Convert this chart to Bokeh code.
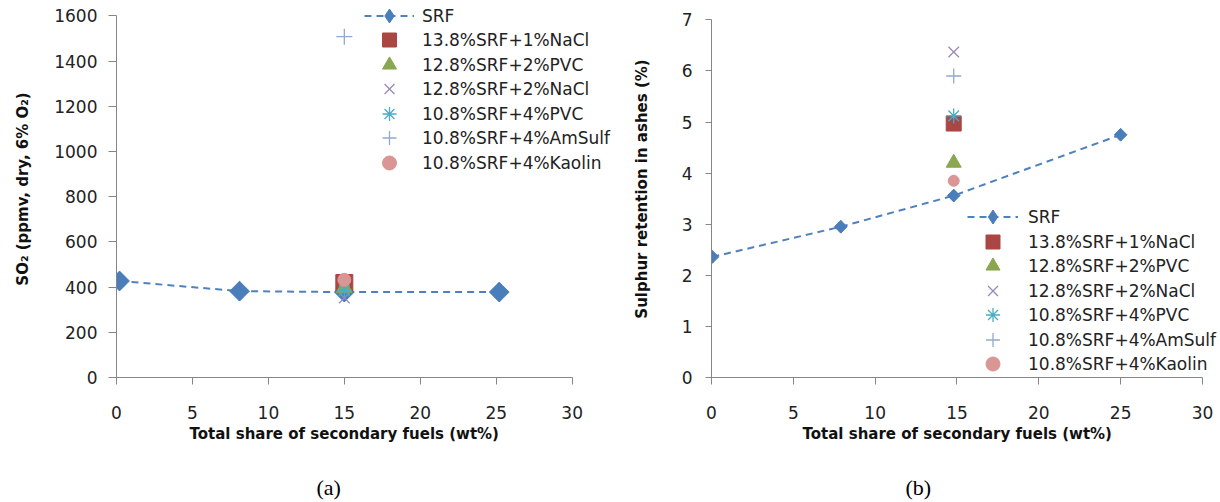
import math
from bokeh.plotting import figure
from bokeh.layouts import row
from bokeh.models import Legend, LegendItem, Title, FixedTicker, Range1d
from bokeh.embed import file_html
from bokeh.resources import INLINE

# ---------------- data ----------------
x_ticks = [0, 5, 10, 15, 20, 25, 30]
series_names = ["SRF", "13.8%SRF+1%NaCl", "12.8%SRF+2%PVC", "12.8%SRF+2%NaCl",
                "10.8%SRF+4%PVC", "10.8%SRF+4%AmSulf", "10.8%SRF+4%Kaolin"]

# panel (a): SO2 emissions
y_ticks_a = [0, 200, 400, 600, 800, 1000, 1200, 1400, 1600]
srf_x_a = [0.2, 8.1, 15.0, 25.2]
srf_y_a = [427, 382, 378, 378]
mix_x_a = [15.0]
nacl1_a = [418]
pvc2_a = [397]
nacl2_a = [352]
pvc4_a = [385]
amsulf_a = [1508]
kaolin_a = [432]

# panel (b): sulphur retention in ashes
y_ticks_b = [0, 1, 2, 3, 4, 5, 6, 7]
srf_x_b = [0.05, 7.9, 14.8, 25.0]
srf_y_b = [2.36, 2.95, 3.56, 4.75]
mix_x_b = [14.8]
nacl1_b = [4.97]
pvc2_b = [4.20]
nacl2_b = [6.37]
pvc4_b = [5.12]
amsulf_b = [5.90]
kaolin_b = [3.85]

# ---------------- style ----------------
FONT = "DejaVu Sans"
AXIS_COL = "#868686"
TXT_COL = "#222222"
C_SRF = "#4a7ebb"
C_LINE = "#4f81bd"
C_SQ = "#aa4643"
C_TRI = "#8aa64f"
C_X = "#9a88bb"
C_AST = "#4bacc6"
C_PLUS = "#93a9cf"
C_CIRC = "#d99694"
H = 502
TOP = 0
FRAME_H = 377
XTITLE = "Total share of secondary fuels (wt%)"


def make_panel(width, border_left, frame_w, x_view, y_view, y_top,
               y_ticks, ylabel, sx, sy, mx, mixes, sizes, leg_x, leg_ya, leg_yb, glyph_w,
               label_standoff, ytick_out, ylab_standoff, ylabel_off, caption,
               xtitle_off, cap_off):
    p = figure(width=width, height=H, x_range=Range1d(0, x_view), y_range=Range1d(0, y_view),
               output_backend="svg", toolbar_location=None,
               min_border_left=border_left, min_border_top=TOP,
               min_border_right=width - border_left - frame_w,
               min_border_bottom=H - TOP - FRAME_H)
    p.xgrid.visible = False
    p.ygrid.visible = False
    p.outline_line_color = None
    p.background_fill_color = "white"
    p.border_fill_color = "white"

    for ax in (p.xaxis[0], p.yaxis[0]):
        ax.axis_line_color = AXIS_COL
        ax.major_tick_line_color = AXIS_COL
        ax.minor_tick_line_color = None
        ax.major_tick_in = 0
        ax.major_label_text_font = FONT
        ax.major_label_text_font_size = "17px"
        ax.major_label_text_color = TXT_COL
        ax.axis_label_text_font = FONT
        ax.axis_label_text_font_size = "15px"
        ax.axis_label_text_font_style = "bold"
        ax.axis_label_text_color = "#111111"
    p.xaxis.ticker = FixedTicker(ticks=x_ticks)
    p.yaxis.ticker = FixedTicker(ticks=y_ticks)
    p.xaxis.bounds = (x_ticks[0], x_ticks[-1])
    p.yaxis.bounds = (0, y_top)
    p.xaxis.major_tick_out = 7
    p.xaxis.major_label_standoff = 21
    p.yaxis.major_tick_out = ytick_out
    p.yaxis.major_label_standoff = ylab_standoff
    p.yaxis.axis_label = ylabel
    p.yaxis.axis_label_standoff = ylabel_off

    # x-axis title and caption stacked below the x axis
    p.add_layout(Title(text=XTITLE, align="left", offset=xtitle_off, vertical_align="top",
                       standoff=6, text_font=FONT, text_font_size="15px",
                       text_font_style="bold", text_color="#111111"), "below")
    # the caption sits on the second line, leaving a blank line above it
    p.add_layout(Title(text="\n" + caption, align="left", offset=cap_off,
                       vertical_align="top", standoff=0, text_line_height=1.1,
                       text_font="Liberation Serif", text_font_size="22px",
                       text_font_style="normal", text_color="#000000"), "below")

    dsz, sqz, trz, xz, asz, plz, ciz = sizes
    l = p.line(sx, sy, line_color=C_LINE, line_width=2, line_dash="7 5")
    # narrow diamond (legend glyph) lying under the square-diamond markers
    dleg = p.scatter(sx, sy, marker="diamond", size=dsz * 1.35,
                     fill_color=C_SRF, line_color=C_SRF)
    p.scatter(sx, sy, marker="square", angle=math.pi / 4, size=dsz,
              fill_color=C_SRF, line_color=C_SRF)
    r1 = p.scatter(mx, mixes[0], marker="square", size=sqz, fill_color=C_SQ, line_color=C_SQ)
    r2 = p.scatter(mx, mixes[1], marker="triangle", size=trz, fill_color=C_TRI, line_color=C_TRI)
    r3 = p.scatter(mx, mixes[2], marker="x", size=xz, line_color=C_X, line_width=1.3)
    r4 = p.scatter(mx, mixes[3], marker="asterisk", size=asz, line_color=C_AST, line_width=1.3)
    r5 = p.scatter(mx, mixes[4], marker="cross", size=plz, line_color=C_PLUS, line_width=1.3)
    r6 = p.scatter(mx, mixes[5], marker="circle", size=ciz, fill_color=C_CIRC, line_color=C_CIRC)

    rends = [[l, dleg], [r1], [r2], [r3], [r4], [r5], [r6]]
    items = [LegendItem(label=n, renderers=r) for n, r in zip(series_names, rends)]
    gh = 35
    common = dict(padding=0, margin=0, border_line_color=None, background_fill_alpha=0,
                  glyph_width=glyph_w, glyph_height=gh, label_height=gh, spacing=14,
                  label_standoff=label_standoff, label_text_font=FONT,
                  label_text_font_size="17px", label_text_color=TXT_COL)
    # two interleaved legends: even entries and odd entries
    p.add_layout(Legend(items=items[0::2], location=(leg_x, leg_ya), **common))
    p.add_layout(Legend(items=items[1::2], location=(leg_x, leg_yb), **common))
    return p


pa = make_panel(width=620, border_left=116, frame_w=500, x_view=32.92,
                y_view=1668.1, y_top=1600,
                y_ticks=y_ticks_a, ylabel="SO\u2082 (ppmv, dry, 6% O\u2082)",
                sx=srf_x_a, sy=srf_y_a, mx=mix_x_a,
                mixes=[nacl1_a, pvc2_a, nacl2_a, pvc4_a, amsulf_a, kaolin_a],
                sizes=[14, 17, 16, 15, 15, 16, 13],
                leg_x=248, leg_ya=197, leg_yb=222, glyph_w=50, label_standoff=8,
                ytick_out=8, ylab_standoff=11, ylabel_off=19,
                caption="(a)", xtitle_off=73, cap_off=200)

pb = make_panel(width=598, border_left=91, frame_w=507, x_view=30.98,
                y_view=7.378, y_top=7,
                y_ticks=y_ticks_b, ylabel="Sulphur retention in ashes (%)",
                sx=srf_x_b, sy=srf_y_b, mx=mix_x_b,
                mixes=[nacl1_b, pvc2_b, nacl2_b, pvc4_b, amsulf_b, kaolin_b],
                sizes=[9, 15, 15, 15, 15, 15, 11],
                leg_x=256, leg_ya=-4, leg_yb=20, glyph_w=51, label_standoff=10,
                ytick_out=6, ylab_standoff=13, ylabel_off=28,
                caption="(b)", xtitle_off=91, cap_off=194)

layout = row(pa, pb)
open("out.html", "w").write(file_html(layout, INLINE))
